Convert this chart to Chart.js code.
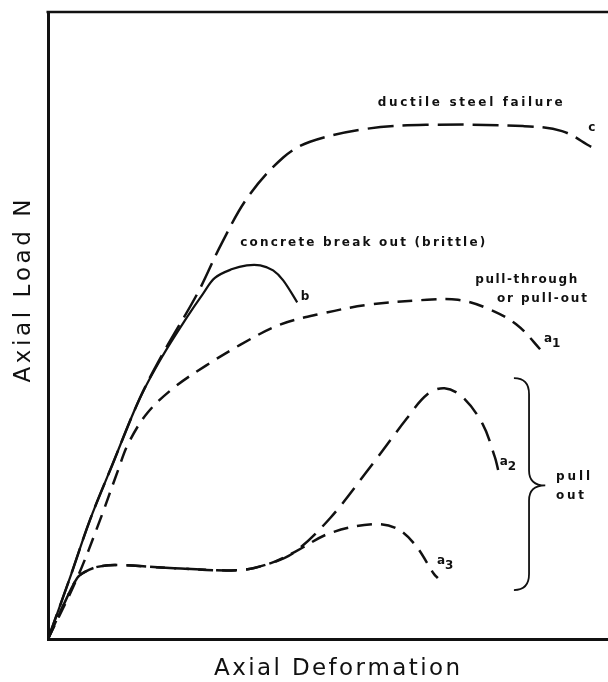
<!DOCTYPE html>
<html>
<head>
<meta charset="utf-8">
<script src="https://cdn.jsdelivr.net/npm/chart.js@4.4.1/dist/chart.umd.min.js"></script>
<style>
  html, body { margin: 0; padding: 0; background: #fff; }
  #wrap { width: 608px; height: 682px; }
</style>
</head>
<body>
<div id="wrap"><canvas id="loadChart"></canvas></div>
<script>
// axial deformation (x) and axial load (y), both in % of the drawn axis
const steelX = [0, 3.9, 7.5, 11.4, 16.4, 20.5, 26.8, 30.9, 35.7, 42.0, 46.8, 57.1, 67.5, 84.8, 91.8, 97.0];
const steelY = [0, 9.7, 19.0, 27.6, 38.4, 45.5, 55.3, 62.9, 70.5, 76.8, 79.3, 81.4, 82.0, 81.8, 81.0, 78.5];

const brittleX = [0, 3.9, 7.5, 11.4, 16.4, 20.5, 24.8, 27.7, 29.8, 32.9, 35.5, 37.9, 40.2, 42.0, 44.5];
const brittleY = [0, 9.7, 19.0, 27.6, 38.4, 45.2, 51.3, 55.1, 57.6, 59.0, 59.6, 59.6, 58.8, 57.2, 53.7];

const pullThroughX = [0, 5.2, 9.3, 12.5, 14.3, 17.7, 22.5, 28.2, 34.3, 41.3, 48.9, 57.1, 67.7, 73.2, 78.0, 83.6, 88.4];
const pullThroughY = [0, 9.7, 19.0, 26.9, 31.1, 36.0, 40.1, 43.6, 46.9, 50.1, 51.9, 53.3, 54.1, 54.1, 52.9, 50.2, 45.7];

const pullOut2X = [0, 2.5, 5.2, 6.6, 8.8, 12.1, 22.5, 34.3, 39.8, 44.1, 50.4, 57.1, 64.1, 67.7, 70.8, 74.0, 77.6, 79.8, 80.4];
const pullOut2Y = [0, 4.9, 9.7, 10.7, 11.5, 11.8, 11.3, 11.0, 12.1, 13.9, 19.3, 26.9, 35.2, 39.0, 40.0, 38.6, 34.3, 29.0, 26.9];

const pullOut3X = [0, 2.5, 5.2, 6.6, 8.8, 12.1, 22.5, 34.3, 39.8, 44.1, 50.4, 57.9, 62.1, 65.5, 68.9, 69.6];
const pullOut3Y = [0, 4.9, 9.7, 10.7, 11.5, 11.8, 11.3, 11.0, 12.1, 13.9, 16.9, 18.3, 17.7, 15.1, 10.4, 9.7];

function toPoints(xs, ys) {
  return xs.map((x, i) => ({ x: x, y: ys[i] }));
}

// text placed on the plot, in axis units (centre of each label)
const notes = [
  { text: 'ductile steel failure', x: 75.4, y: 85.5, w: 185 },
  { text: 'c', x: 97.1, y: 81.5 },
  { text: 'concrete break out (brittle)', x: 56.2, y: 63.1, w: 245 },
  { text: 'b', x: 45.9, y: 54.5 },
  { text: 'pull-through', x: 85.4, y: 57.2, w: 102 },
  { text: 'or pull-out', x: 88.2, y: 54.3, w: 90 },
  { text: 'pull', x: 93.75, y: 25.8, w: 34 },
  { text: 'out', x: 93.2, y: 22.9, w: 28 }
];
const subLabels = [
  { sub: '1', x: 89.3, y: 47.8 },
  { sub: '2', x: 81.4, y: 28.2 },
  { sub: '3', x: 70.2, y: 12.4 }
];

function spacedText(ctx, text, cx, cy, width) {
  const widths = [...text].map(ch => ctx.measureText(ch).width);
  const natural = widths.reduce((a, b) => a + b, 0);
  const gap = width && text.length > 1 ? (width - natural) / (text.length - 1) : 0;
  const total = natural + gap * (text.length - 1);
  let x = cx - total / 2;
  ctx.textAlign = 'left';
  ctx.textBaseline = 'middle';
  [...text].forEach((ch, i) => {
    ctx.fillText(ch, x, cy);
    x += widths[i] + gap;
  });
}

const drawingNotes = {
  id: 'drawingNotes',
  afterDraw(chart) {
    const { ctx, chartArea } = chart;
    const sx = chart.scales.x, sy = chart.scales.y;
    ctx.save();
    ctx.fillStyle = '#111';
    ctx.strokeStyle = '#111';

    // top frame line (no right edge in the original)
    ctx.lineWidth = 2.5;
    ctx.beginPath();
    ctx.moveTo(chartArea.left - 1.5, chartArea.top);
    ctx.lineTo(chartArea.right, chartArea.top);
    ctx.stroke();

    ctx.font = 'bold 12px "DejaVu Sans"';
    notes.forEach(n => {
      spacedText(ctx, n.text, sx.getPixelForValue(n.x), sy.getPixelForValue(n.y), n.w);
    });

    subLabels.forEach(s => {
      const px = sx.getPixelForValue(s.x), py = sy.getPixelForValue(s.y);
      ctx.font = 'bold 12px "DejaVu Sans"';
      ctx.textAlign = 'center';
      ctx.textBaseline = 'middle';
      ctx.fillText('a', px, py);
      ctx.font = 'bold 12px "DejaVu Sans"';
      ctx.fillText(s.sub, px + 8, py + 5);
    });

    // brace grouping the two pull-out curves
    const bx = sx.getPixelForValue(85.9);
    const x0 = sx.getPixelForValue(83.2);
    const tip = sx.getPixelForValue(88.8);
    const yTop = sy.getPixelForValue(41.6);
    const yMid = sy.getPixelForValue(24.5);
    const yBot = sy.getPixelForValue(7.8);
    ctx.lineWidth = 1.8;
    ctx.beginPath();
    ctx.moveTo(x0, yTop);
    ctx.quadraticCurveTo(bx, yTop, bx, yTop + 16);
    ctx.lineTo(bx, yMid - 15);
    ctx.quadraticCurveTo(bx, yMid, tip, yMid);
    ctx.quadraticCurveTo(bx, yMid, bx, yMid + 15);
    ctx.lineTo(bx, yBot - 16);
    ctx.quadraticCurveTo(bx, yBot, x0, yBot);
    ctx.stroke();

    // axis titles
    ctx.font = '23px "DejaVu Sans"';
    spacedText(ctx, 'Axial Deformation', 337, 669, 246);
    ctx.translate(24, 291);
    ctx.rotate(-Math.PI / 2);
    spacedText(ctx, 'Axial Load N', 0, 0, 183);
    ctx.restore();
  }
};

const ctx = document.getElementById('loadChart');
new Chart(ctx, {
  type: 'line',
  data: {
    datasets: [
      {
        label: 'c',
        data: toPoints(steelX, steelY),
        borderColor: '#111',
        borderWidth: 2.5,
        borderDash: [26, 9],
        order: 5
      },
      {
        label: 'a1',
        data: toPoints(pullThroughX, pullThroughY),
        borderColor: '#111',
        borderWidth: 2.5,
        borderDash: [15, 9],
        order: 4
      },
      {
        label: 'a2',
        data: toPoints(pullOut2X, pullOut2Y),
        borderColor: '#111',
        borderWidth: 2.5,
        borderDash: [20, 10],
        order: 3
      },
      {
        label: 'a3',
        data: toPoints(pullOut3X, pullOut3Y),
        borderColor: '#111',
        borderWidth: 2.5,
        borderDash: [15, 9],
        order: 2
      },
      {
        label: 'b',
        data: toPoints(brittleX, brittleY),
        borderColor: '#111',
        borderWidth: 2.2,
        order: 1
      }
    ]
  },
  options: {
    responsive: true,
    maintainAspectRatio: false,
    animation: false,
    elements: {
      point: { radius: 0 },
      line: { tension: 0.35, fill: false, capBezierPoints: true }
    },
    layout: { padding: { left: 48, top: 12, right: 0, bottom: 43 } },
    plugins: {
      legend: { display: false },
      tooltip: { enabled: false }
    },
    scales: {
      x: {
        type: 'linear',
        min: 0,
        max: 100,
        grid: { display: false, drawTicks: false },
        ticks: { display: false },
        border: { display: true, color: '#111', width: 3 }
      },
      y: {
        type: 'linear',
        min: 0,
        max: 100,
        grid: { display: false, drawTicks: false },
        ticks: { display: false },
        border: { display: true, color: '#111', width: 3 }
      }
    }
  },
  plugins: [drawingNotes]
});
</script>
</body>
</html>
